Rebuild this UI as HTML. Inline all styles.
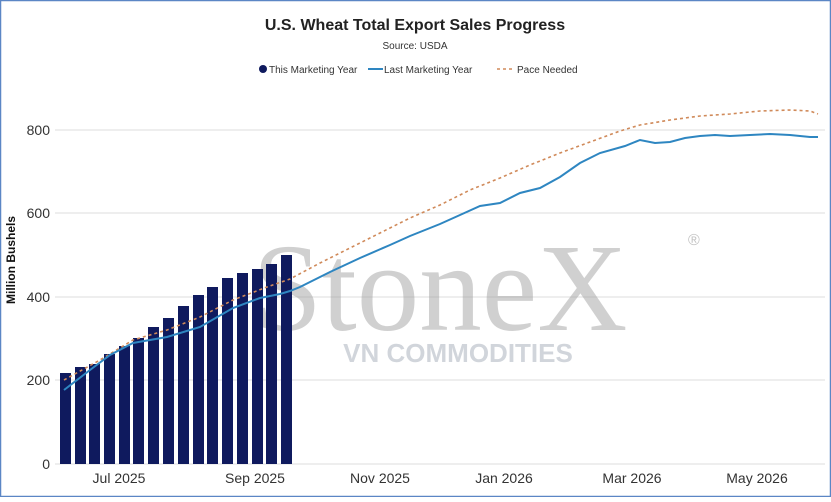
<!DOCTYPE html>
<html><head><meta charset="utf-8"><style>
html,body{margin:0;padding:0;background:#fff}
body{width:831px;height:497px;overflow:hidden;font-family:"Liberation Sans",sans-serif}
</style></head><body>
<svg width="831" height="497" viewBox="0 0 831 497" xmlns="http://www.w3.org/2000/svg" font-family="Liberation Sans, sans-serif">
<rect x="0.5" y="0.5" width="830" height="496" fill="#fff" stroke="#5b86c5" stroke-width="1.5"/>
<text x="415" y="30" text-anchor="middle" font-size="16" font-weight="bold" fill="#222">U.S. Wheat Total Export Sales Progress</text>
<text x="415" y="49" text-anchor="middle" font-size="10" fill="#333">Source: USDA</text>
<circle cx="263" cy="69" r="4" fill="#0f1a5e"/>
<text x="269" y="73" font-size="10" fill="#333">This Marketing Year</text>
<line x1="368" y1="69" x2="383" y2="69" stroke="#2e86c1" stroke-width="2"/>
<text x="384" y="73" font-size="10" fill="#333">Last Marketing Year</text>
<line x1="497" y1="69" x2="513" y2="69" stroke="#d08a5a" stroke-width="1.5" stroke-dasharray="3,3"/>
<text x="517" y="73" font-size="10" fill="#333">Pace Needed</text>
<g stroke="#ddd" stroke-width="1">
<line x1="55" y1="130" x2="825" y2="130"/><line x1="55" y1="213" x2="825" y2="213"/>
<line x1="55" y1="297" x2="825" y2="297"/><line x1="55" y1="380" x2="825" y2="380"/>
<line x1="55" y1="464" x2="825" y2="464"/></g>
<g font-size="14" fill="#333" text-anchor="end">
<text x="50" y="135">800</text><text x="50" y="218">600</text><text x="50" y="302">400</text><text x="50" y="385">200</text><text x="50" y="469">0</text></g>
<text transform="translate(15,260) rotate(-90)" text-anchor="middle" font-size="12" font-weight="bold" fill="#111">Million Bushels</text>
<g font-size="14" fill="#333" text-anchor="middle">
<text x="119" y="483">Jul 2025</text><text x="255" y="483">Sep 2025</text><text x="380" y="483">Nov 2025</text><text x="504" y="483">Jan 2026</text><text x="632" y="483">Mar 2026</text><text x="757" y="483">May 2026</text></g>
<text x="440" y="330" text-anchor="middle" font-size="125" font-family="Liberation Serif, serif" fill="#999" opacity="0.45">StoneX</text>
<text x="458" y="362" text-anchor="middle" font-size="26" font-weight="bold" fill="#9aa3b0" opacity="0.45">VN COMMODITIES</text>
<text x="688" y="245" font-size="16" fill="#999" opacity="0.6">®</text>
<g fill="#0f1a5e">
<rect x="60" y="373" width="11" height="91"/><rect x="75" y="367" width="11" height="97"/>
<rect x="89" y="364" width="11" height="100"/><rect x="104" y="354" width="11" height="110"/>
<rect x="119" y="346" width="11" height="118"/><rect x="133" y="338" width="11" height="126"/>
<rect x="148" y="327" width="11" height="137"/><rect x="163" y="318" width="11" height="146"/>
<rect x="178" y="306" width="11" height="158"/><rect x="193" y="295" width="11" height="169"/>
<rect x="207" y="287" width="11" height="177"/><rect x="222" y="278" width="11" height="186"/>
<rect x="237" y="273" width="11" height="191"/><rect x="252" y="269" width="11" height="195"/>
<rect x="266" y="264" width="11" height="200"/><rect x="281" y="255" width="11" height="209"/></g>
<polyline fill="none" stroke="#d08a5a" stroke-width="1.6" stroke-dasharray="3,3" points="64,380 100,360 133,340 167,330 200,317 233,300 267,287 290,279 320,263 330,258 370,238 410,218 440,205 470,190 500,178 530,165 560,153 590,142 620,131 640,125 670,120 700,116 730,114 760,111 790,110 810,111 818,114"/>
<polyline fill="none" stroke="#2e86c1" stroke-width="2" points="64,390 90,370 110,355 133,343 167,337 200,327 233,308 260,298 280,294 290,291 300,287 330,272 360,258 390,245 410,236 440,224 460,215 480,206 500,203 520,193 540,188 560,177 580,163 600,153 625,146 640,140 655,143 670,142 685,138 700,136 715,135 730,136 750,135 770,134 790,135 810,137 818,137"/>
</svg>
</body></html>
